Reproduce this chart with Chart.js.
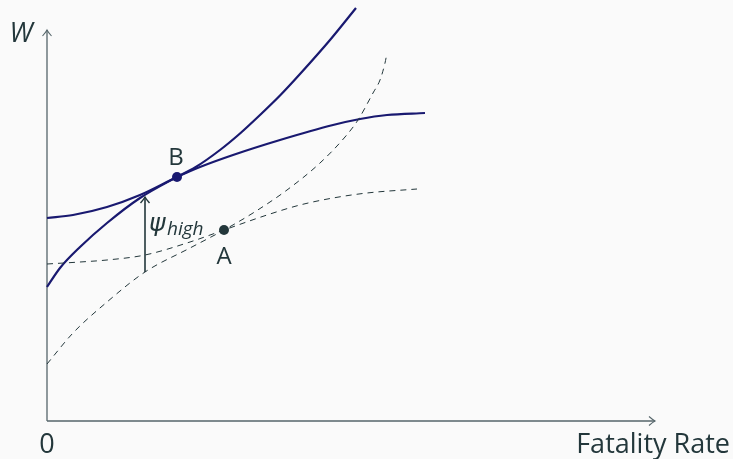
<!DOCTYPE html>
<html>
<head>
<meta charset="utf-8">
<script src="https://cdn.jsdelivr.net/npm/chart.js@4/dist/chart.umd.min.js"></script>
<style>
  html, body { margin: 0; padding: 0; background: #fafafa; }
  #wrap { width: 733px; height: 459px; }
</style>
</head>
<body>
<div id="wrap"><canvas id="c" width="733" height="459"></canvas></div>
<script>
// Abstract units (no ticks on the original chart): origin at 0,0
const solidConvexX = [0, 13, 33, 60, 93, 130, 148, 173, 193, 213, 233, 253, 283, 309];
const solidConvexY = [134, 153, 174, 198, 223, 244, 253.5, 271, 287.5, 306, 325.5, 347, 381, 413];

const solidSX = [0, 26, 60, 93, 130, 153, 186, 233, 286, 313, 340, 378];
const solidSY = [203, 206, 214, 226, 244, 254, 266, 281, 296, 302, 306, 308];

const dashConvexX = [0, 26, 60, 98, 143, 177, 206, 240, 273, 298, 311, 326, 333, 338, 340];
const dashConvexY = [57, 88, 119, 149, 173, 191, 208, 231, 258, 284, 301, 328, 341, 358, 368];

const dashSX = [0, 33, 60, 98, 143, 177, 220, 253, 286, 320, 370];
const dashSY = [157, 159, 161, 166, 179, 191, 206, 216, 223, 228, 232];

const pointB = { x: 130, y: 244, label: 'B' };
const pointA = { x: 177, y: 191, label: 'A' };
const psiArrowX = [98, 98];
const psiArrowY = [149, 224];

const xAxisEnd = 608;
const yAxisEnd = 391;
const axisLabels = { y: 'W', x: 'Fatality Rate', origin: '0' };

const NAVY = '#191970';
const SLATE = '#23373b';
const AXIS = '#56666b';

const pts = (xs, ys) => xs.map((x, i) => ({ x: x, y: ys[i] }));

const drawArrowHead = (ctx, x, y, dir) => {
  ctx.save();
  ctx.beginPath();
  if (dir === 'up') {
    ctx.moveTo(x - 4.5, y + 6);
    ctx.quadraticCurveTo(x - 1, y + 2, x, y);
    ctx.quadraticCurveTo(x + 1, y + 2, x + 4.5, y + 6);
  } else {
    ctx.moveTo(x - 6, y - 4.5);
    ctx.quadraticCurveTo(x - 2, y - 1, x, y);
    ctx.quadraticCurveTo(x - 2, y + 1, x - 6, y + 4.5);
  }
  ctx.stroke();
  ctx.restore();
};

const decor = {
  id: 'decor',
  beforeDraw(chart) {
    const ctx = chart.ctx;
    ctx.save();
    ctx.fillStyle = '#fafafa';
    ctx.fillRect(0, 0, chart.width, chart.height);
    ctx.restore();
  },
  beforeDatasetsDraw(chart) {
    const { ctx, scales: { x, y } } = chart;
    const x0 = x.getPixelForValue(0), y0 = y.getPixelForValue(0);
    const xe = x.getPixelForValue(xAxisEnd), ye = y.getPixelForValue(yAxisEnd);
    ctx.save();
    ctx.strokeStyle = AXIS;
    ctx.lineWidth = 1.3;
    ctx.beginPath();
    ctx.moveTo(x0, y0); ctx.lineTo(xe, y0);
    ctx.moveTo(x0, y0); ctx.lineTo(x0, ye);
    ctx.stroke();
    ctx.lineWidth = 1.1;
    drawArrowHead(ctx, xe, y0, 'right');
    drawArrowHead(ctx, x0, ye, 'up');
    ctx.restore();
  },
  afterDatasetsDraw(chart) {
    const { ctx, scales: { x, y } } = chart;
    ctx.save();
    ctx.strokeStyle = SLATE;
    ctx.lineWidth = 1.4;
    drawArrowHead(ctx, x.getPixelForValue(psiArrowX[1]), y.getPixelForValue(psiArrowY[1]), 'up');

    ctx.fillStyle = SLATE;
    ctx.textBaseline = 'alphabetic';
    ctx.font = 'italic 27px "Open Sans", sans-serif';
    ctx.textAlign = 'center';
    ctx.fillText(axisLabels.y, x.getPixelForValue(0) - 26, y.getPixelForValue(yAxisEnd) + 12);
    ctx.font = '27px "Open Sans", sans-serif';
    ctx.fillText(axisLabels.origin, x.getPixelForValue(0), y.getPixelForValue(0) + 32);
    ctx.textAlign = 'right';
    ctx.fillText(axisLabels.x, 730, y.getPixelForValue(0) + 32);

    ctx.textAlign = 'center';
    ctx.font = '24px "Open Sans", sans-serif';
    ctx.fillText(pointB.label, x.getPixelForValue(pointB.x) - 1, y.getPixelForValue(pointB.y) - 12);
    ctx.fillText(pointA.label, x.getPixelForValue(pointA.x), y.getPixelForValue(pointA.y) + 34);

    const ax = x.getPixelForValue(psiArrowX[0]);
    const ay = (y.getPixelForValue(psiArrowY[0]) + y.getPixelForValue(psiArrowY[1])) / 2;
    ctx.textAlign = 'left';
    ctx.font = 'italic 25px "DejaVu Sans", sans-serif';
    ctx.fillText('ψ', ax + 4, ay - 4);
    ctx.font = 'italic 19px "Open Sans", sans-serif';
    ctx.fillText('high', ax + 22, ay + 0);
    ctx.restore();
  }
};

new Chart(document.getElementById('c'), {
  type: 'scatter',
  data: {
    datasets: [
      { data: pts(dashConvexX, dashConvexY), showLine: true, borderColor: SLATE, borderWidth: 1, borderDash: [6, 5], pointRadius: 0, cubicInterpolationMode: 'monotone' },
      { data: pts(dashSX, dashSY), showLine: true, borderColor: SLATE, borderWidth: 1, borderDash: [6, 5], pointRadius: 0, cubicInterpolationMode: 'monotone' },
      { data: pts(solidConvexX, solidConvexY), showLine: true, borderColor: NAVY, borderWidth: 2.2, pointRadius: 0, cubicInterpolationMode: 'monotone' },
      { data: pts(solidSX, solidSY), showLine: true, borderColor: NAVY, borderWidth: 2.2, pointRadius: 0, cubicInterpolationMode: 'monotone' },
      { data: pts(psiArrowX, psiArrowY), showLine: true, borderColor: SLATE, borderWidth: 1.6, pointRadius: 0 },
      { data: [{ x: pointA.x, y: pointA.y }], pointRadius: 5, pointBackgroundColor: SLATE, pointBorderWidth: 0 },
      { data: [{ x: pointB.x, y: pointB.y }], pointRadius: 5, pointBackgroundColor: NAVY, pointBorderWidth: 0 }
    ]
  },
  options: {
    responsive: false,
    animation: false,
    layout: { padding: 0, autoPadding: false },
    plugins: { legend: { display: false }, tooltip: { enabled: false } },
    scales: {
      x: { type: 'linear', display: false, min: -47, max: 686 },
      y: { type: 'linear', display: false, min: -38, max: 421 }
    }
  },
  plugins: [decor]
});
</script>
</body>
</html>
